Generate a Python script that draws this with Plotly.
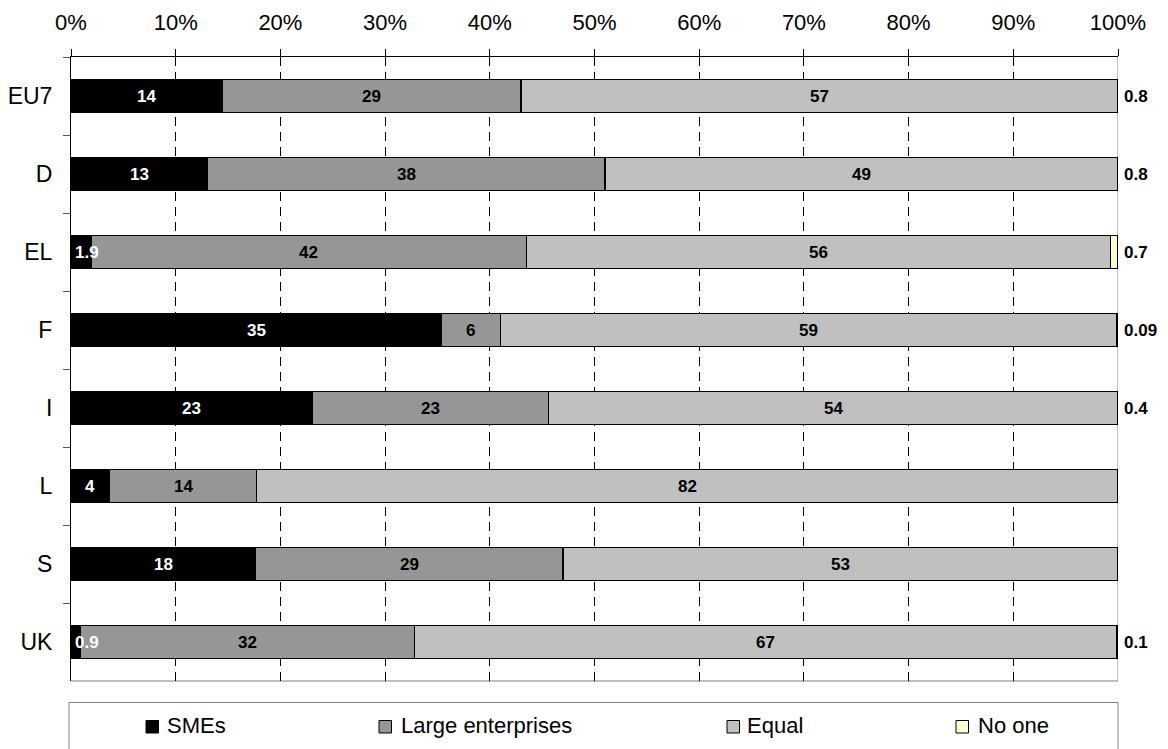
import plotly.graph_objects as go

countries = ["EU7", "D", "EL", "F", "I", "L", "S", "UK"]
smes = [14.4, 13.0, 1.9, 35.4, 23.0, 3.7, 17.6, 0.9]
large = [28.6, 38.0, 41.6, 5.6, 22.6, 14.0, 29.4, 31.9]
equal = [57.0, 49.0, 55.8, 58.9, 54.4, 82.3, 53.0, 67.1]
no_one = [0.8, 0.8, 0.7, 0.09, 0.4, None, None, 0.1]

series_names = ["SMEs", "Large enterprises", "Equal", "No one"]
colors = ["#000000", "#969696", "#C0C0C0", "#FFFFCC"]
label_colors = ["white", "black", "black", "black"]

W, H = 1168, 749
L_M, R_M, T_M, B_M = 71, 50, 57, 68
PW = W - L_M - R_M
PH = H - T_M - B_M

FONT = "Liberation Sans, Arial, sans-serif"


def fmt(v):
    return f"{v:.1f}" if v < 2 else f"{v:.0f}"


def px_x(px):
    return (px - L_M) / PW


def px_y(py):
    return (H - B_M - py) / PH


fig = go.Figure()
all_series = [smes, large, equal, [v if v is not None else 0 for v in no_one]]
for name, vals, col in zip(series_names, all_series, colors):
    fig.add_trace(go.Bar(
        y=countries, x=vals, name=name, orientation="h",
        marker=dict(color=col, line=dict(color="black", width=1.5)),
        width=0.42, showlegend=False, hoverinfo="x+name",
    ))

annotations = []
# segment labels
for i, c in enumerate(countries):
    start = 0.0
    for k, vals in enumerate([smes, large, equal]):
        v = vals[i]
        if v < 3:
            annotations.append(dict(
                x=start, y=c, xref="x", yref="y", text=f"<b>{fmt(v)}</b>",
                showarrow=False, xanchor="left", xshift=2,
                font=dict(family=FONT, size=17, color=label_colors[k])))
        else:
            annotations.append(dict(
                x=start + v / 2, y=c, xref="x", yref="y", text=f"<b>{fmt(v)}</b>",
                showarrow=False, xanchor="center",
                font=dict(family=FONT, size=17, color=label_colors[k])))
        start += v
    if no_one[i] is not None:
        annotations.append(dict(
            x=100, y=c, xref="x", yref="y", text=f"<b>{no_one[i]:g}</b>",
            showarrow=False, xanchor="left", xshift=4,
            font=dict(family=FONT, size=17, color="black")))

shapes = []
# right border and bottom border (gray)
shapes.append(dict(type="line", xref="x", yref="paper", x0=100, x1=100, y0=0, y1=1,
                   line=dict(color="#808080", width=1), layer="below"))
shapes.append(dict(type="line", xref="paper", yref="paper", x0=0, x1=1, y0=0, y1=0,
                   line=dict(color="#808080", width=1), layer="below"))

# manual legend box
shapes.append(dict(type="rect", xref="paper", yref="paper",
                   x0=px_x(69), x1=px_x(1118), y0=px_y(756), y1=px_y(702.5),
                   line=dict(color="#808080", width=1), fillcolor="white"))
legend_sym_x = [146, 379, 727, 956]
legend_txt_x = [165, 399, 745, 976]
for name, col, sx, tx in zip(series_names, colors, legend_sym_x, legend_txt_x):
    shapes.append(dict(type="rect", xref="paper", yref="paper",
                       x0=px_x(sx), x1=px_x(sx + 12.5), y0=px_y(733), y1=px_y(720.5),
                       line=dict(color="black", width=1), fillcolor=col))
    annotations.append(dict(
        x=px_x(tx), y=px_y(725), xref="paper", yref="paper", text=name,
        showarrow=False, xanchor="left", yanchor="middle",
        font=dict(family=FONT, size=22, color="black")))

fig.update_layout(
    width=W, height=H,
    margin=dict(l=L_M, r=R_M, t=T_M, b=B_M, autoexpand=False),
    barmode="stack", bargap=0.58,
    plot_bgcolor="white", paper_bgcolor="white",
    font=dict(family=FONT, size=22, color="black"),
    annotations=annotations, shapes=shapes,
    xaxis=dict(
        side="top", range=[0, 100], dtick=10, tick0=0, ticksuffix="%",
        showgrid=True, gridcolor="#000000", griddash="9px,6px", gridwidth=1,
        showline=True, linecolor="black", linewidth=1,
        ticks="outside", ticklen=7, tickcolor="black",
        ticklabelstandoff=10, zeroline=False, automargin=False,
        tickfont=dict(family=FONT, size=22, color="black"),
        fixedrange=True,
    ),
    yaxis=dict(
        type="category", categoryorder="array", categoryarray=countries,
        autorange="reversed", automargin=False,
        showline=True, linecolor="black", linewidth=1,
        ticks="outside", ticklen=7, tickcolor="#555555", tickson="boundaries",
        showgrid=False, ticklabelstandoff=13,
        tickfont=dict(family=FONT, size=23, color="black"),
        fixedrange=True,
    ),
)

fig.write_html("out.html")
